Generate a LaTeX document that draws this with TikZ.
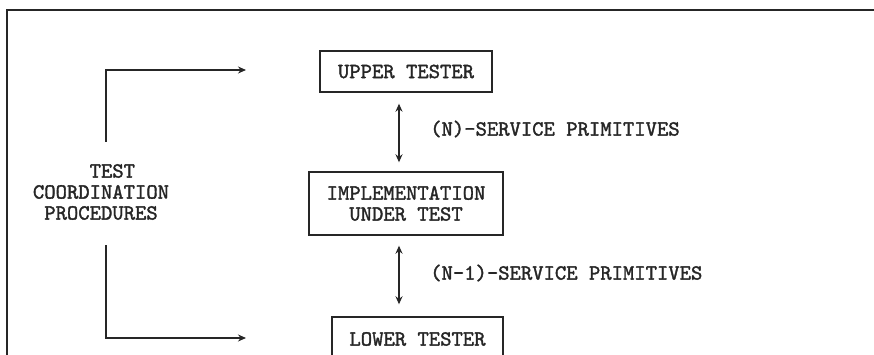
\documentclass[tikz,border=0pt]{standalone}
\usepackage{fontspec}
\newfontfamily\typew{lmmono10-regular.otf}[FakeBold=1.6]
\usetikzlibrary{arrows.meta}
\tikzset{
  ink/.style={draw=black!85, line width=1.4pt},
  box/.style={ink, rectangle, inner sep=0pt, align=center,
    font=\typew\fontsize{21.6}{21}\selectfont, text=black!85},
  label/.style={inner sep=0pt, font=\typew\fontsize{21.6}{21}\selectfont, text=black!85},
  flow/.style={ink, -{Stealth[length=8pt,width=7pt]}},
  dbl/.style={ink, {Stealth[length=8pt,width=7pt]}-{Stealth[length=8pt,width=7pt]}}
}
\begin{document}
\begin{tikzpicture}[x=1pt,y=-1pt]
  \useasboundingbox (0,0) rectangle (874,355);
  \clip (0,0) rectangle (874,355);
  \fill[white] (0,0) rectangle (874,355);

  % outer frame (continues past the right and bottom edges)
  \draw[draw=black!85, line width=1.8pt] (7,420) -- (7,10) -- (900,10);

  % tester and implementation boxes
  \node[box, minimum width=172pt, minimum height=41pt] (upper) at (406,71.5) {UPPER TESTER};
  \node[box, minimum width=194pt, minimum height=63pt] (iut) at (406,203.5) {IMPLEMENTATION\\UNDER TEST};
  \node[box, minimum width=171pt, minimum height=44pt] (lower) at (417.5,339) {LOWER TESTER};

  % coordination procedures text
  \node[label, align=left] (tcp) at (101,192) {\hphantom{TESTE}TEST\\COORDINATION\\\hphantom{C}PROCEDURES};

  % service primitive exchanges
  \coordinate (ax) at (399,0);
  \draw[dbl, shorten <=11pt, shorten >=9pt] (upper.south -| ax) -- (iut.north -| ax);
  \draw[dbl, shorten <=10pt, shorten >=12pt] (iut.south -| ax) -- (lower.north -| ax);
  \node[label, anchor=west] (nsp) at (430,129) {(N)-SERVICE PRIMITIVES};
  \node[label, anchor=west] (n1sp) at (430,273) {(N-1)-SERVICE PRIMITIVES};

  % coordination paths to the testers
  \coordinate (ustart) at (106,142);
  \coordinate (ucorner) at (106,70);
  \coordinate (uend) at (246,70);
  \coordinate (lstart) at (106,245);
  \coordinate (lcorner) at (106,338);
  \coordinate (lend) at (246,338);
  \draw[flow] (ustart) -- (ucorner) -- (uend);
  \draw[flow] (lstart) -- (lcorner) -- (lend);
\end{tikzpicture}
\end{document}
